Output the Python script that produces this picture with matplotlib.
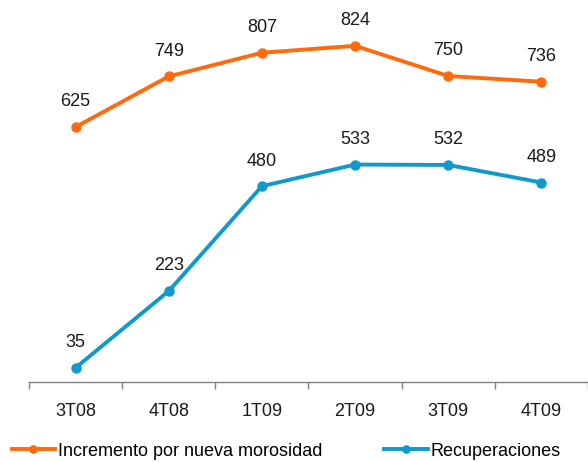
import matplotlib
matplotlib.use('Agg')
import matplotlib.pyplot as plt
import numpy as np

matplotlib.rcParams['font.family'] = ['Liberation Sans', 'DejaVu Sans']

# Data
quarters = ['3T08', '4T08', '1T09', '2T09', '3T09', '4T09']
incremento = [625, 749, 807, 824, 750, 736]
recuperaciones = [35, 223, 480, 533, 532, 489]

orange = '#FF6A0D'
blue = '#1199CC'

fig = plt.figure(figsize=(5.88, 4.62), dpi=100)
ax = fig.add_axes([0.0493, 0.173, 0.9507, 0.795])

x = np.arange(len(quarters))
ax.plot(x, incremento, color=orange, lw=2.8, marker='o', ms=6.5,
        label='Incremento por nueva morosidad')
ax.plot(x, recuperaciones, color=blue, lw=2.8, marker='o', ms=6.5,
        label='Recuperaciones')

# Value labels above points
for xi, v in zip(x, incremento):
    ax.annotate(f'{v}', (xi, v), xytext=(0, 12), textcoords='offset points',
                ha='center', va='bottom', fontsize=13, color='#1a1a1a')
for xi, v in zip(x, recuperaciones):
    ax.annotate(f'{v}', (xi, v), xytext=(0, 12), textcoords='offset points',
                ha='center', va='bottom', fontsize=13, color='#1a1a1a')

ax.set_xlim(-0.5, len(quarters) - 0.5)
ax.set_ylim(0, 900)

# Axis styling: only bottom spine, ticks between categories
for side in ['left', 'right', 'top']:
    ax.spines[side].set_visible(False)
ax.spines['bottom'].set_color('#808080')
ax.spines['bottom'].set_linewidth(1.0)
ax.set_yticks([])
ax.set_xticks(x)
ax.set_xticklabels(quarters, fontsize=13, color='#1a1a1a')
ax.tick_params(axis='x', which='major', length=0, pad=15)
ax.set_xticks(np.arange(len(quarters) + 1) - 0.5, minor=True)
ax.tick_params(axis='x', which='minor', length=5, color='#808080', width=1.0)

leg = ax.legend(loc='center left', bbox_to_anchor=(-0.031, -0.188), ncol=2,
                frameon=False, fontsize=13, handlelength=2.4, handletextpad=0.15,
                columnspacing=3.45, borderaxespad=0, borderpad=0,
                markerscale=0.8)

fig.savefig('out.png', dpi=100)
